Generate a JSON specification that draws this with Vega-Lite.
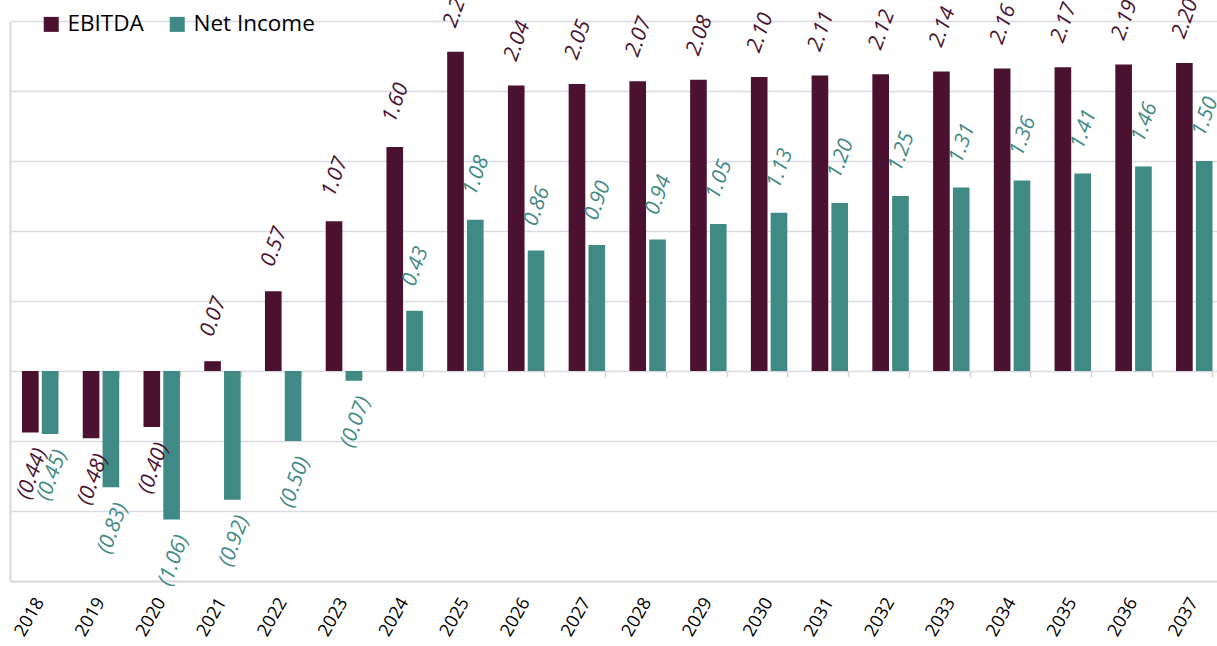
{
  "$schema": "https://vega.github.io/schema/vega-lite/v6.json",
  "width": 1207,
  "height": 560,
  "autosize": {"type": "none"},
  "padding": {"left": 10, "top": 21, "right": 0, "bottom": 65},
  "background": "white",
  "config": {
    "view": {"stroke": null},
    "font": "Open Sans",
    "legend": {
      "orient": "none",
      "legendX": 30,
      "legendY": -8,
      "direction": "horizontal",
      "title": null,
      "symbolType": "square",
      "symbolSize": 225,
      "symbolStrokeWidth": 0,
      "labelFont": "Open Sans",
      "labelFontSize": 22.5,
      "labelColor": "#000000",
      "labelOffset": 5,
      "columnPadding": 22,
      "padding": 0
    }
  },
  "data": {
    "values": [
      {"year": "2018", "series": "EBITDA", "value": -0.44},
      {"year": "2019", "series": "EBITDA", "value": -0.48},
      {"year": "2020", "series": "EBITDA", "value": -0.40},
      {"year": "2021", "series": "EBITDA", "value": 0.07},
      {"year": "2022", "series": "EBITDA", "value": 0.57},
      {"year": "2023", "series": "EBITDA", "value": 1.07},
      {"year": "2024", "series": "EBITDA", "value": 1.60},
      {"year": "2025", "series": "EBITDA", "value": 2.28},
      {"year": "2026", "series": "EBITDA", "value": 2.04},
      {"year": "2027", "series": "EBITDA", "value": 2.05},
      {"year": "2028", "series": "EBITDA", "value": 2.07},
      {"year": "2029", "series": "EBITDA", "value": 2.08},
      {"year": "2030", "series": "EBITDA", "value": 2.10},
      {"year": "2031", "series": "EBITDA", "value": 2.11},
      {"year": "2032", "series": "EBITDA", "value": 2.12},
      {"year": "2033", "series": "EBITDA", "value": 2.14},
      {"year": "2034", "series": "EBITDA", "value": 2.16},
      {"year": "2035", "series": "EBITDA", "value": 2.17},
      {"year": "2036", "series": "EBITDA", "value": 2.19},
      {"year": "2037", "series": "EBITDA", "value": 2.20},
      {"year": "2018", "series": "Net Income", "value": -0.45},
      {"year": "2019", "series": "Net Income", "value": -0.83},
      {"year": "2020", "series": "Net Income", "value": -1.06},
      {"year": "2021", "series": "Net Income", "value": -0.92},
      {"year": "2022", "series": "Net Income", "value": -0.50},
      {"year": "2023", "series": "Net Income", "value": -0.07},
      {"year": "2024", "series": "Net Income", "value": 0.43},
      {"year": "2025", "series": "Net Income", "value": 1.08},
      {"year": "2026", "series": "Net Income", "value": 0.86},
      {"year": "2027", "series": "Net Income", "value": 0.90},
      {"year": "2028", "series": "Net Income", "value": 0.94},
      {"year": "2029", "series": "Net Income", "value": 1.05},
      {"year": "2030", "series": "Net Income", "value": 1.13},
      {"year": "2031", "series": "Net Income", "value": 1.20},
      {"year": "2032", "series": "Net Income", "value": 1.25},
      {"year": "2033", "series": "Net Income", "value": 1.31},
      {"year": "2034", "series": "Net Income", "value": 1.36},
      {"year": "2035", "series": "Net Income", "value": 1.41},
      {"year": "2036", "series": "Net Income", "value": 1.46},
      {"year": "2037", "series": "Net Income", "value": 1.50}
    ]
  },
  "encoding": {
    "xOffset": {
      "field": "series",
      "type": "nominal",
      "sort": ["EBITDA", "Net Income"],
      "scale": {"paddingInner": 0.16, "paddingOuter": 0}
    },
    "y": {
      "field": "value",
      "type": "quantitative",
      "scale": {"domain": [-1.5, 2.5], "nice": false},
      "axis": {
        "title": null,
        "labels": false,
        "ticks": false,
        "domainColor": "#D9D9D9",
        "domainWidth": 2,
        "grid": true,
        "gridColor": "#D9DAE2",
        "gridWidth": 1.5,
        "values": [-1.5, -1, -0.5, 0, 0.5, 1, 1.5, 2, 2.5]
      }
    },
    "color": {
      "field": "series",
      "type": "nominal",
      "scale": {"domain": ["EBITDA", "Net Income"], "range": ["#4A1130", "#3F8A84"]}
    }
  },
  "layer": [
    {
      "mark": {"type": "bar"},
      "encoding": {
        "x": {
          "field": "year",
          "type": "nominal",
          "scale": {"paddingInner": 0.4, "paddingOuter": 0.136, "align": 0.727},
          "axis": {
            "orient": "bottom",
            "title": null,
            "labelAngle": -60,
            "labelFont": "Open Sans",
            "labelFontSize": 18,
            "labelColor": "#000000",
            "labelPadding": 18,
            "ticks": false,
            "tickSize": 0,
            "domainColor": "#D9D9D9",
            "domainWidth": 2,
            "grid": false
          }
        }
      }
    },
    {
      "transform": [{"filter": "datum.value >= 0"}],
      "mark": {
        "type": "text",
        "angle": -70,
        "align": "left",
        "baseline": "middle",
        "dx": 22,
        "dy": -14,
        "font": "Open Sans",
        "fontSize": 21,
        "fontStyle": "italic"
      },
      "encoding": {
        "x": {
          "field": "year",
          "type": "nominal",
          "axis": {
            "orient": "bottom",
            "offset": -210,
            "title": null,
            "labels": false,
            "domain": false,
            "ticks": true,
            "tickBand": "extent",
            "tickSize": 6,
            "tickColor": "#D4D4D4",
            "tickWidth": 1.5,
            "grid": false
          }
        },
        "text": {"field": "value", "type": "quantitative", "format": "(.2f"}
      }
    },
    {
      "transform": [{"filter": "datum.value < 0"}],
      "mark": {
        "type": "text",
        "angle": -70,
        "align": "right",
        "baseline": "middle",
        "dx": -12,
        "dy": 16,
        "font": "Open Sans",
        "fontSize": 21,
        "fontStyle": "italic"
      },
      "encoding": {
        "x": {"field": "year", "type": "nominal", "axis": null},
        "text": {"field": "value", "type": "quantitative", "format": "(.2f"}
      }
    }
  ],
  "resolve": {"axis": {"x": "independent"}}
}
